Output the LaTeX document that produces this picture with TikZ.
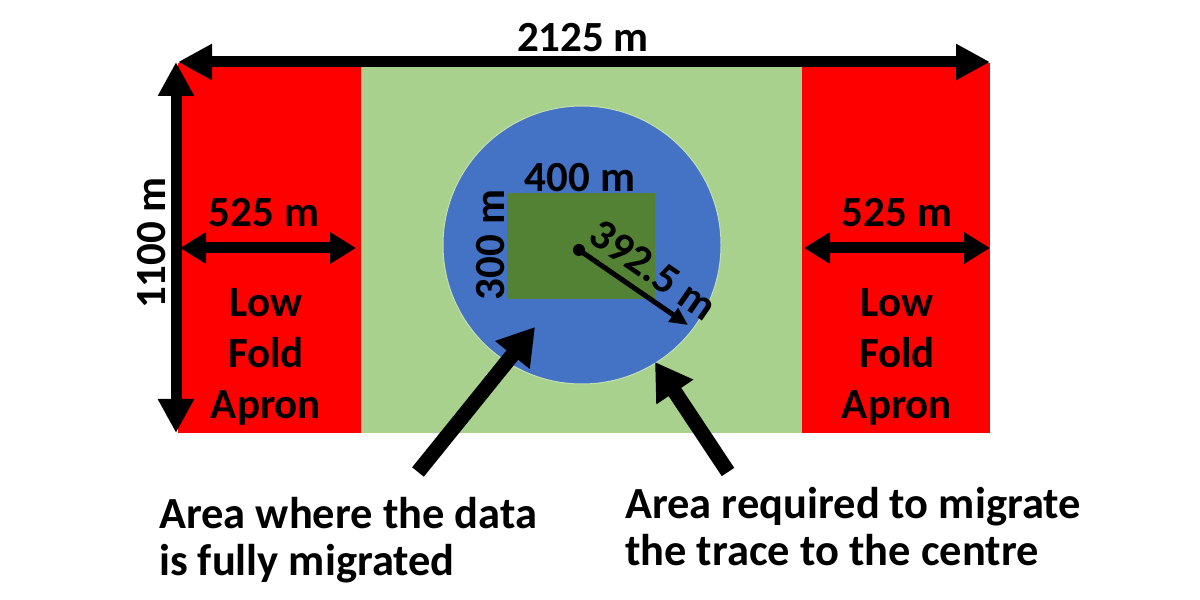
\documentclass[tikz,border=0pt]{standalone}
\usepackage{fontspec}
\setmainfont{Carlito}
\usetikzlibrary{arrows.meta}

\definecolor{apronred}{HTML}{FF0000}
\definecolor{fieldgreen}{HTML}{A9D18E}
\definecolor{migblue}{HTML}{4472C4}
\definecolor{patchgreen}{HTML}{548235}

\begin{document}
\begin{tikzpicture}[x=1pt,y=1pt,
    lbl/.style={draw=none,inner sep=0pt,font=\fontsize{43}{51}\selectfont\bfseries},
    caption/.style={draw=none,inner sep=0pt,align=left,anchor=north west,font=\fontsize{44.5}{47}\selectfont\bfseries},
    dimarrow/.style={line width=11pt,{Triangle[length=34pt,width=34pt]}-{Triangle[length=34pt,width=34pt]}},
    smallarrow/.style={line width=11pt,{Triangle[length=26pt,width=30pt]}-{Triangle[length=26pt,width=30pt]}},
    pointer/.style={line width=15pt,-{Triangle[length=36pt,width=42pt]}}]

\useasboundingbox (0,0) rectangle (1200,600);

\fill[apronred]   (178,167) rectangle (361,537); % left apron
\fill[fieldgreen] (361,167) rectangle (802,537);
\fill[apronred]   (802,167) rectangle (990,537); % right apron

\fill[migblue, draw=fieldgreen!70!white, line width=1pt] (582,355) circle (139);
\fill[patchgreen] (507,301) rectangle (655,407);

\coordinate (topL) at (178,538);
\coordinate (topR) at (990,538);
\coordinate (sideT) at (176,538);
\coordinate (sideB) at (176,167);
\coordinate (leftA) at (180,352);
\coordinate (leftB) at (356,352);
\coordinate (rightA) at (804,352);
\coordinate (rightB) at (990,352);
\coordinate (centre) at (579,350);
\coordinate (rim) at (688,275);
\coordinate (innerTip) at (535,273);
\coordinate (outerTip) at (655,238);
\coordinate (innerTail) at (418,128);
\coordinate (outerTail) at (728,128);

\node [lbl] (total) at (583,562) {2125 m};
\node [lbl, rotate=90] (height) at (152,357) {1100 m};
\node [lbl] (leftw) at (264,387) {525 m};
\node [lbl] (rightw) at (897,387) {525 m};
\node [lbl, align=center] (leftapron) at (266,243) {Low\\Fold\\Apron};
\node [lbl, align=center] (rightapron) at (897,243) {Low\\Fold\\Apron};
\node [lbl] (patchw) at (580,422) {400 m};
\node [lbl, rotate=90] (patchh) at (491,355) {300 m};

\node [caption] (inner) at (159,103) {Area where the data\\is fully migrated};
\node [caption] (outer) at (625,113) {Area required to migrate\\the trace to the centre};

\draw[dimarrow] (topL) -- (topR); % width
\draw[dimarrow] (sideT) -- (sideB); % height
\draw[smallarrow] (leftA) -- (leftB);
\draw[smallarrow] (rightA) -- (rightB);

\fill (centre) circle (6);
\draw[line width=5pt,-{Triangle[length=18pt,width=16pt]}] (centre) -- (rim)
    node [lbl, pos=0.55, above=9pt, sloped] (radius) {392.5 m};

\draw[pointer] (innerTail) -- (innerTip);
\draw[pointer] (outerTail) -- (outerTip);

\end{tikzpicture}
\end{document}
